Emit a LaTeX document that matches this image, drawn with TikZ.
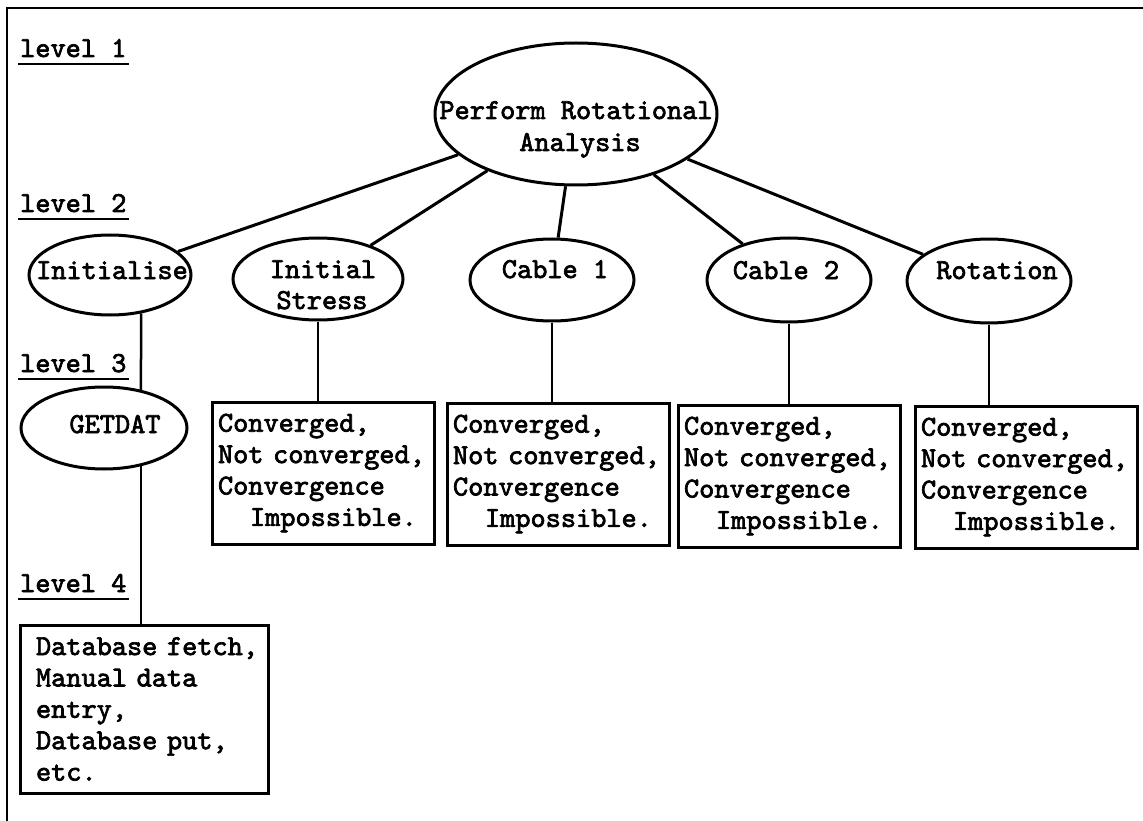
\documentclass[tikz,border=0pt]{standalone}
\usepackage{fontspec}
\setmonofont[FakeBold=2.4]{lmmono10-regular.otf}
\usetikzlibrary{shapes.geometric}

\tikzset{
  tt/.style={font=\ttfamily\fontsize{28.9}{31.4}\selectfont},
  oval/.style={ellipse, draw, line width=3pt, inner sep=0pt},
  word/.style={tt, inner sep=0pt, anchor=base},
  lvl/.style={tt, anchor=base west, inner xsep=2pt, inner ysep=0pt},
  uline/.style={line width=2.3pt},
  result/.style={tt, draw, rectangle, line width=3pt, align=left,
                 inner xsep=6pt, text width=210pt,
                 minimum width=222pt, minimum height=142pt},
  link/.style={line width=3pt},
  drop/.style={line width=2.5pt},
  frame/.style={line width=2.2pt},
}

\begin{document}
\begin{tikzpicture}[x=1pt,y=-1pt]
\useasboundingbox[fill=white] (0,0) rectangle (1143,821);

% page frame
\coordinate (fTL) at (7,8);
\coordinate (fTR) at (1143,8);
\coordinate (fBL) at (7,821);
\draw[frame] (fTR) -- (fTL) -- (fBL);

% level labels
\node[lvl] (l1) at (18,57)  {level 1};
\node[lvl] (l2) at (18,212) {level 2};
\node[lvl] (l3) at (18,372) {level 3};
\node[lvl] (l4) at (18,592) {level 4};
\foreach \l in {l1,l2,l3,l4}
  \draw[uline] ([yshift=-7pt]\l.base west) -- ([yshift=-7pt]\l.base east);

% level 1
\node[oval, minimum width=282pt, minimum height=142pt] (top) at (576,114) {};
\node[word] (topa) at (576,119) {Perform Rotational};
\node[word] (topb) at (580,151) {Analysis};

% level 2
\node[oval, minimum width=162pt, minimum height=80pt] (init)   at (110,275) {};
\node[oval, minimum width=170pt, minimum height=82pt] (stress) at (318,279) {};
\node[oval, minimum width=164pt, minimum height=82pt] (cab1)   at (552,280) {};
\node[oval, minimum width=164pt, minimum height=84pt] (cab2)   at (789,280) {};
\node[oval, minimum width=164pt, minimum height=84pt] (rot)    at (989,281) {};
\node[word] (initt)  at (112,279) {Initialise};
\node[word] (stra)   at (323,278) {Initial};
\node[word] (strb)   at (322,309) {Stress};
\node[word] (cab1t)  at (555,278) {Cable 1};
\node[word] (cab2t)  at (786,279) {Cable 2};
\node[word] (rott)   at (997,279) {Rotation};

% level 3
\node[oval, minimum width=166pt, minimum height=82pt] (getdat) at (104,428) {};
\node[word] (getdatt) at (115,433) {GETDAT};

\newcommand{\convtext}{Converged,\\Not~converged,\\Convergence\\\hspace*{32pt}Impossible.}
\node[result] (b1) at (323,473)    {\convtext};
\node[result] (b2) at (558,474)    {\convtext};
\node[result] (b3) at (789,476)    {\convtext};
\node[result] (b4) at (1026,477)   {\convtext};

% level 4
\node[result, inner xsep=15pt, text width=216pt, minimum width=248pt,
      minimum height=168pt] (data) at (144,709)
  {Database~fetch,\\Manual~data\\entry,\\Database~put,\\etc.};

% connectors
\draw[link] (top) -- (init);
\draw[link] (top) -- (stress);
\draw[link] (top) -- (cab1);
\draw[link] (top) -- (cab2);
\draw[link] (top) -- (rot);

\draw[drop] (stress.south) -- (stress.south |- b1.north);
\draw[drop] (cab1.south)   -- (cab1.south |- b2.north);
\draw[drop] (cab2.south)   -- (cab2.south |- b3.north);
\draw[drop] (rot.south)    -- (rot.south |- b4.north);

\draw[drop] (init.-51) -- (getdat.46);
\draw[drop] (getdat.-46) -- (getdat.-46 |- data.north);
\end{tikzpicture}
\end{document}
